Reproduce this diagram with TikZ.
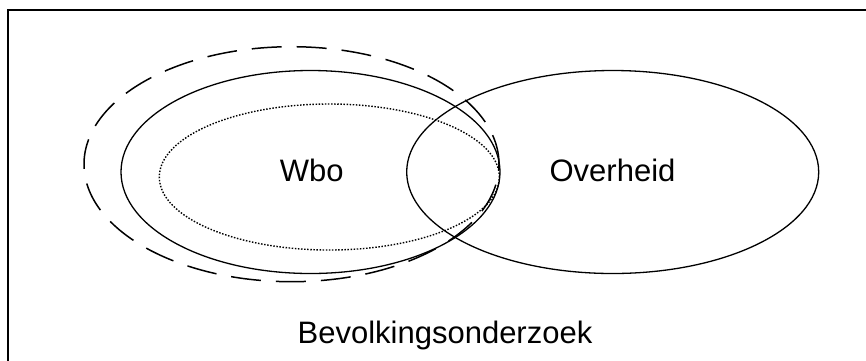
\documentclass[tikz,border=0pt]{standalone}
\usepackage{fontspec}
\setmainfont{Liberation Sans}
\usetikzlibrary{shapes.geometric}
\begin{document}
\begin{tikzpicture}[x=1pt,y=-1pt,
  setshape/.style={ellipse, draw, inner sep=0pt, outer sep=0pt},
  solidset/.style={setshape, line width=1.3pt},
  dashset/.style={setshape, line width=1.5pt, dash pattern=on 30pt off 15pt},
  dotset/.style={setshape, line width=1.4pt, dash pattern=on 1.5pt off 1.6pt},
  lbl/.style={anchor=base, inner sep=0pt, font=\fontsize{31}{36}\selectfont}]
\useasboundingbox (0,0) rectangle (866,360);
\clip (0,0) rectangle (866,360);
\fill[white] (0,0) rectangle (866,360);
% frame
\coordinate (fbl) at (8,380);
\coordinate (ftl) at (8,9.5);
\coordinate (ftr) at (890,9.5);
\draw[line width=2pt] (fbl) -- (ftl) -- (ftr);
% sets
\node[dashset, minimum width=415pt, minimum height=235pt] (bev) at (291.5,164.2) {};
\node[solidset, minimum width=379pt, minimum height=203pt] (wbo) at (310.5,172) {};
\node[dotset, minimum width=340pt, minimum height=146pt] (sub) at (329.3,177) {};
\node[solidset, minimum width=412pt, minimum height=203pt] (ovh) at (612.7,172) {};
% labels
\node[lbl] (twbo) at (311.7,181.5) {Wbo};
\node[lbl] (tovh) at (612.5,181) {Overheid};
\node[lbl] (tbev) at (445,343) {Bevolkingsonderzoek};
\end{tikzpicture}
\end{document}
